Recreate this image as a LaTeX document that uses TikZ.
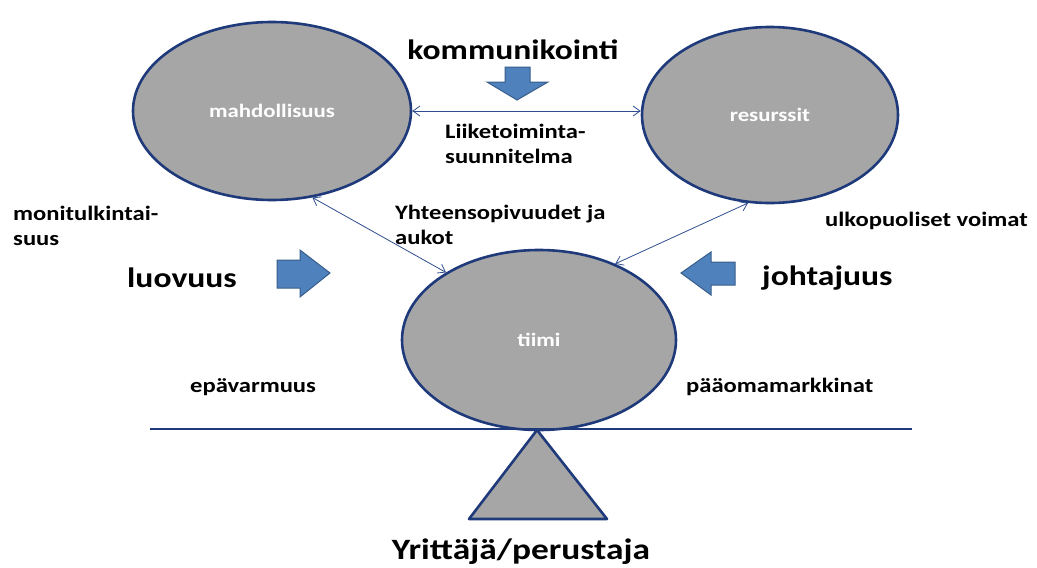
\documentclass[tikz,border=0pt]{standalone}
\usepackage{fontspec}
\setmainfont{Carlito}[FakeStretch=1.2]
\usetikzlibrary{arrows.meta,shapes.geometric}
\definecolor{navy}{HTML}{1F3A7A}
\definecolor{elfill}{HTML}{A6A6A6}
\definecolor{arrfill}{HTML}{4F81BD}
\definecolor{arrline}{HTML}{385D8A}
\definecolor{conn}{HTML}{2F4E90}
\begin{document}
\begin{tikzpicture}[x=1pt,y=-1pt,
  circ/.style={ellipse,draw=navy,line width=2.6pt,fill=elfill,inner sep=0pt,text=white,font=\bfseries\fontsize{19}{22}\selectfont},
  lbl/.style={font=\bfseries\fontsize{20.5}{25}\selectfont,align=left,inner sep=0pt,anchor=west},
  big/.style={font=\bfseries\fontsize{28}{32}\selectfont,inner sep=0pt},
  blockarrow/.style={fill=arrfill,draw=arrline,line width=1pt,line join=miter},
  conline/.style={draw=conn,line width=0.8pt,{Straight Barb[length=7pt,width=10pt]}-{Straight Barb[length=7pt,width=10pt]}}]
\useasboundingbox (0,0) rectangle (1037,568);
% ellipses
\node[circ,minimum width=278pt,minimum height=178pt] (m) at (272,111) {mahdollisuus};
\node[circ,minimum width=256pt,minimum height=176pt] (r) at (770,115) {resurssit};
\node[circ,minimum width=274pt,minimum height=180pt] (t) at (539,340) {tiimi};
% balance
\coordinate (bl) at (150,429);
\coordinate (br) at (912,429);
\draw[navy,line width=1.6pt] (bl) -- (br);
\coordinate (apex) at (537,430);
\draw[navy,line width=2.6pt,fill=elfill,line join=round] (apex) -- (607,519) -- (469,519) -- cycle;
% connectors
\draw[conline] (m.east) -- (r.west |- m.east);
\draw[conline] (m.-65) -- (t.144);
\draw[conline] (r.-104) -- (t.45);
% block arrows
\draw[blockarrow] (505,67) -- (530,67) -- (530,82) -- (548,82) -- (517,100) -- (487,82) -- (505,82) -- cycle;
\draw[blockarrow] (277,260) -- (300,260) -- (300,250) -- (330,273) -- (300,297) -- (300,288) -- (277,288) -- cycle;
\draw[blockarrow] (735,262) -- (711,262) -- (711,252) -- (681,273) -- (711,295) -- (711,285) -- (735,285) -- cycle;
% labels
\node[big] (komm) at (513,50) {kommunikointi};
\node[lbl] (liik) at (445,144) {Liiketoiminta-\\suunnitelma};
\node[lbl] (moni) at (13,226) {monitulkintai-\\suus};
\node[lbl] (yht) at (395,225) {Yhteensopivuudet ja\\aukot};
\node[lbl] (ulko) at (825,221) {ulkopuoliset voimat};
\node[big,anchor=west] (luov) at (127,278) {luovuus};
\node[big,anchor=west] (joht) at (762,278) {johtajuus};
\node[lbl] (epav) at (190,387) {epävarmuus};
\node[lbl] (paao) at (686,387) {pääomamarkkinat};
\node[big,font=\bfseries\fontsize{29.5}{34}\selectfont] (yrit) at (521,552) {Yrittäjä/perustaja};
\end{tikzpicture}
\end{document}
